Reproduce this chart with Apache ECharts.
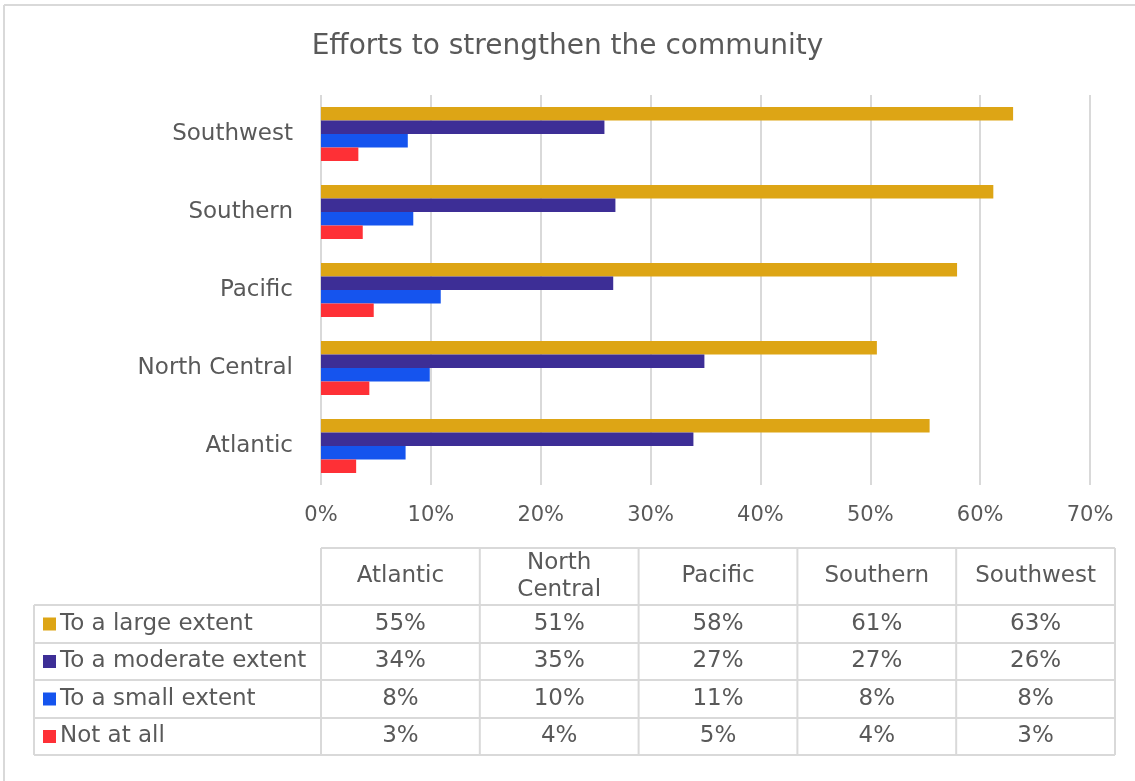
<!DOCTYPE html>
<html>
<head>
<meta charset="utf-8">
<title>Efforts to strengthen the community</title>
<script src="https://cdn.jsdelivr.net/npm/echarts@6/dist/echarts.min.js"></script>
<style>
	html, body { margin: 0; padding: 0; background: #fff; }
	#chart { width: 1135px; height: 781px; }
</style>
</head>
<body>
<div id="chart"></div>
<script>
	// 数据
	var categories = ['Atlantic', 'North Central', 'Pacific', 'Southern', 'Southwest'];
	var seriesNames = ['To a large extent', 'To a moderate extent', 'To a small extent', 'Not at all'];
	var largeExtent = [55.4, 50.6, 57.9, 61.2, 63.0];
	var moderateExtent = [33.9, 34.9, 26.6, 26.8, 25.8];
	var smallExtent = [7.7, 9.9, 10.9, 8.4, 7.9];
	var notAtAll = [3.2, 4.4, 4.8, 3.8, 3.4];
	var xTicks = [0, 10, 20, 30, 40, 50, 60, 70];

	var allValues = [largeExtent, moderateExtent, smallExtent, notAtAll];
	var colors = ['#DDA515', '#3D2E96', '#1554EE', '#FE3036'];
	var textColor = '#595959';
	var lineColor = '#d9d9d9';
	var font = 'DejaVu Sans';

	// 数据表
	var tblLeft = 34, tblColStart = 321, colW = 158.8;
	var headTop = 548, rowLines = [605, 643, 680, 718, 755];
	var tblRight = tblColStart + colW * categories.length;
	var graphics = [];

	function hline(x1, x2, y) {
		graphics.push({ type: 'line', shape: { x1: x1, y1: y, x2: x2, y2: y }, style: { stroke: lineColor, lineWidth: 2 }, silent: true });
	}
	function vline(x, y1, y2) {
		graphics.push({ type: 'line', shape: { x1: x, y1: y1, x2: x, y2: y2 }, style: { stroke: lineColor, lineWidth: 2 }, silent: true });
	}
	function cellText(txt, x, y, align) {
		graphics.push({
			type: 'text', x: x, y: y,
			style: { text: txt, fill: textColor, font: '23px "' + font + '"', align: align || 'center', verticalAlign: 'middle', lineHeight: 27 },
			silent: true
		});
	}

	// 外框（上、左）
	hline(4, 1135, 5);
	vline(4, 5, 781);

	hline(tblColStart, tblRight, headTop);
	rowLines.forEach(function(y) { hline(tblLeft, tblRight, y); });
	vline(tblLeft, rowLines[0], rowLines[rowLines.length - 1]);
	for (var c = 0; c <= categories.length; c++) {
		vline(tblColStart + colW * c, headTop, rowLines[rowLines.length - 1]);
	}
	categories.forEach(function(cat, i) {
		cellText(cat.replace(' ', '\n'), tblColStart + colW * (i + 0.5), (headTop + rowLines[0]) / 2);
	});
	seriesNames.forEach(function(name, r) {
		var yMid = (rowLines[r] + rowLines[r + 1]) / 2;
		graphics.push({
			type: 'rect', shape: { x: 43, y: yMid - 6.5, width: 13, height: 13 },
			style: { fill: colors[r] }, silent: true
		});
		cellText(name, 60, yMid, 'left');
		allValues[r].forEach(function(v, i) {
			cellText(Math.round(v) + '%', tblColStart + colW * (i + 0.5), yMid);
		});
	});

	var myChart = echarts.init(document.getElementById('chart'), null, { renderer: 'canvas' });
	var option = {
		animation: false,
		textStyle: { fontFamily: font },
		title: {
			text: 'Efforts to strengthen the community',
			left: 'center',
			top: 28,
			textStyle: { color: textColor, fontSize: 28, fontWeight: 'normal', fontFamily: font }
		},
		grid: {
			left: 321,
			right: 45,
			top: 95,
			height: 390
		},
		xAxis: {
			type: 'value',
			min: xTicks[0],
			max: xTicks[xTicks.length - 1],
			interval: 10,
			axisLine: { show: false },
			axisTick: { show: false },
			axisLabel: { color: textColor, fontSize: 21, margin: 20, formatter: '{value}%' },
			splitLine: { show: true, lineStyle: { color: lineColor, width: 2 } }
		},
		yAxis: {
			type: 'category',
			data: categories,
			axisLine: { show: false },
			axisTick: { show: false },
			axisLabel: { color: textColor, fontSize: 23, margin: 28 }
		},
		series: seriesNames.map(function(name, i) {
			return {
				name: name,
				type: 'bar',
				data: allValues[i],
				itemStyle: { color: colors[i] },
				barGap: '0%',
				barCategoryGap: '31%'
			};
		}),
		graphic: graphics
	};
	myChart.setOption(option);
</script>
</body>
</html>
